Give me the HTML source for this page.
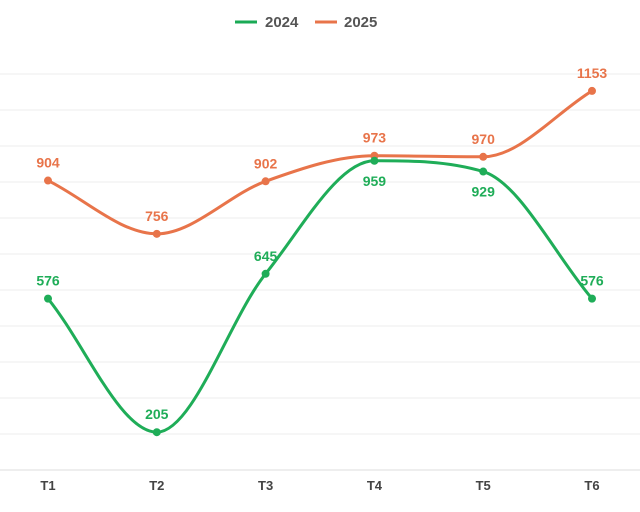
<!DOCTYPE html>
<html><head><meta charset="utf-8"><style>
body{margin:0;background:#fff;}
svg{display:block;font-family:"Liberation Sans",sans-serif;}
</style></head><body>
<svg id="chart" width="640" height="512">
<g>
<g>
<line x1="235" y1="22" x2="257" y2="22" stroke="#1aaa55" stroke-width="3"/>
<text x="265" y="27" font-size="15" font-weight="bold" fill="#555">2024</text></g>
<g>
<line x1="315" y1="22" x2="337" y2="22" stroke="#e8744a" stroke-width="3"/>
<text x="344" y="27" font-size="15" font-weight="bold" fill="#555">2025</text></g>
</g>
<g id="grid"></g>
<g id="xaxis"></g>
<g id="series"></g>
</svg>
<script>
const categories=["T1","T2","T3","T4","T5","T6"];
const s2024=[576,205,645,959,929,576];
const s2025=[904,756,902,973,970,1153];
const gridTicks=[100,200,300,400,500,600,700,800,900,1000,1100,1200];
const NS="http://www.w3.org/2000/svg";
const x=i=>48+i*108.8;
const y=v=>470-(v-100)*0.36;
function mk(t,a,p){const e=document.createElementNS(NS,t);for(const k in a)e.setAttribute(k,a[k]);p.appendChild(e);return e;}
const grid=document.getElementById('grid');
gridTicks.forEach(v=>{const l=mk('line',{x1:0,x2:640,y1:y(v),y2:y(v),stroke:v===100?'#dcdcdc':'#ececec','stroke-width':1},grid);

});
const xa=document.getElementById('xaxis');
categories.forEach((c,i)=>{const t=mk('text',{x:x(i),y:490,'text-anchor':'middle','font-size':13,'font-weight':'bold',fill:'#444'},xa);t.textContent=c;

});
function monoPath(pts){
const n=pts.length,d=[],m=[];
for(let i=0;i<n-1;i++)d.push((pts[i+1][1]-pts[i][1])/(pts[i+1][0]-pts[i][0]));
for(let i=0;i<n;i++){
if(i===0)m.push(d[0]);else if(i===n-1)m.push(d[n-2]);
else m.push(d[i-1]*d[i]<=0?0:(d[i-1]+d[i])/2);}
for(let i=0;i<n-1;i++){if(d[i]===0){m[i]=m[i+1]=0;continue;}
const a=m[i]/d[i],b=m[i+1]/d[i],s=a*a+b*b;if(s>9){const t=3/Math.sqrt(s);m[i]=t*a*d[i];m[i+1]=t*b*d[i];}}
let p=`M${pts[0][0]},${pts[0][1]}`;
for(let i=0;i<n-1;i++){const h=(pts[i+1][0]-pts[i][0])/3;
p+=` C${pts[i][0]+h},${pts[i][1]+m[i]*h} ${pts[i+1][0]-h},${pts[i+1][1]-m[i+1]*h} ${pts[i+1][0]},${pts[i+1][1]}`;}
return p;}
const sg=document.getElementById('series');
function draw(vals,color,name,below){
const g=mk('g',{},sg);


const pts=vals.map((v,i)=>[x(i),y(v)]);
const path=mk('path',{d:monoPath(pts),fill:'none',stroke:color,'stroke-width':3},g);


vals.forEach((v,i)=>{
const c=mk('circle',{cx:x(i),cy:y(v),r:4,fill:color},g);


const t=mk('text',{x:x(i),y:below[i]?y(v)+25:y(v)-13,'text-anchor':'middle','font-size':14,'font-weight':'bold',fill:color},g);
t.textContent=v;

});}
draw(s2025,'#e8744a','2025',[0,0,0,0,0,0]);
draw(s2024,'#1fad58','2024',[0,0,0,1,1,0]);
</script>
</body></html>
